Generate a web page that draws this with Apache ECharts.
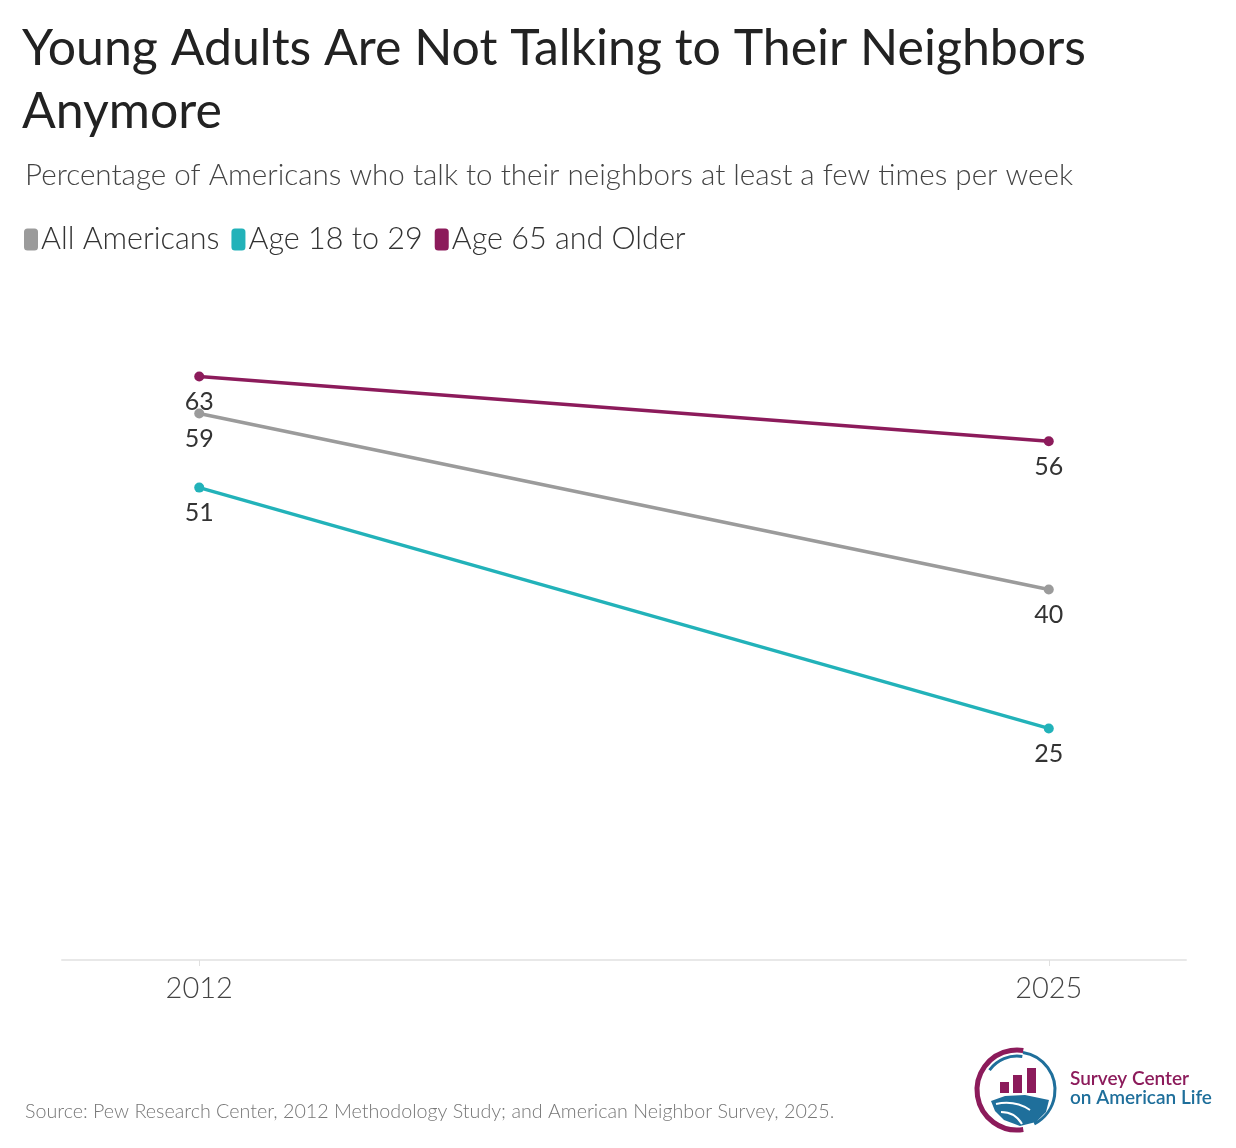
<!DOCTYPE html>
<html>
<head>
<meta charset="utf-8">
<script src="https://cdn.jsdelivr.net/npm/echarts@6/dist/echarts.min.js"></script>
<style>
html, body { margin: 0; padding: 0; background: #fff; }
#main { width: 1236px; height: 1148px; }
</style>
</head>
<body>
<div id="main"></div>
<script>
var years = [2012, 2025];
var seriesNames = ['All Americans', 'Age 18 to 29', 'Age 65 and Older'];
var allAmericans = [59, 40];
var age18to29 = [51, 25];
var age65plus = [63, 56];
var colors = ['#9b9b9b', '#22b2b9', '#8c1b5b'];

var chart = echarts.init(document.getElementById('main'));
var FONT = 'Lato';

function pairs(vals) {
	return years.map(function (y, i) { return [y, vals[i]]; });
}

function makeSeries(name, vals, color) {
	return {
		name: name,
		type: 'line',
		data: pairs(vals),
		symbol: 'circle',
		symbolSize: 10,
		lineStyle: { width: 3.5, color: color },
		itemStyle: { color: color },
		label: {
			show: true,
			position: 'bottom',
			distance: 8,
			fontFamily: FONT,
			fontSize: 25,
			color: '#333'
		},
		emphasis: { disabled: true },
		z: 3
	};
}

var option = {
	animation: false,
	color: colors,
	title: [{
		text: 'Young Adults Are Not Talking to Their Neighbors\nAnymore',
		left: 17,
		top: 12,
		textStyle: {
			fontFamily: FONT,
			fontSize: 50,
			fontWeight: 'normal',
			color: '#222',
			lineHeight: 63
		}
	}, {
		text: 'Percentage of Americans who talk to their neighbors at least a few times per week',
		left: 20,
		top: 155,
		textStyle: {
			fontFamily: FONT,
			fontSize: 29.6,
			fontWeight: 300,
			color: '#444'
		}
	}, {
		text: 'Source: Pew Research Center, 2012 Methodology Study; and American Neighbor Survey, 2025.',
		left: 20,
		top: 1097,
		textStyle: {
			fontFamily: FONT,
			fontSize: 19.7,
			fontWeight: 300,
			color: '#777'
		}
	}],
	legend: {
		left: 19,
		top: 219,
		itemWidth: 14,
		itemHeight: 22,
		itemGap: 12,
		icon: 'roundRect',
		data: seriesNames,
		textStyle: {
			fontFamily: FONT,
			fontSize: 30.5,
			fontWeight: 300,
			color: '#333',
			padding: [0, 0, 0, -2]
		}
	},
	grid: {
		left: 62,
		right: 50,
		top: 311.6,
		bottom: 188
	},
	xAxis: {
		type: 'value',
		min: 2009.9,
		max: 2027.1,
		splitLine: { show: false },
		axisLine: { show: true, lineStyle: { color: '#e8e8e8', width: 2 } },
		axisTick: { show: true, customValues: years, length: 6, lineStyle: { color: '#e0e0e0' } },
		axisLabel: {
			customValues: years,
			fontFamily: FONT,
			fontSize: 29,
			fontWeight: 300,
			color: '#444',
			margin: 14,
			formatter: function (v) { return String(v); }
		}
	},
	yAxis: {
		type: 'value',
		min: 0,
		max: 70,
		show: false,
		splitLine: { show: false }
	},
	series: [
		makeSeries(seriesNames[0], allAmericans, colors[0]),
		makeSeries(seriesNames[1], age18to29, colors[1]),
		makeSeries(seriesNames[2], age65plus, colors[2])
	],
	graphic: [
		// logo: ring
		{
			type: 'arc',
			shape: { cx: 1017, cy: 1090, r: 40, startAngle: Math.PI * 0.45, endAngle: Math.PI * 1.55 },
			style: { stroke: '#8c1b5b', lineWidth: 5, fill: null }
		},
		{
			type: 'arc',
			shape: { cx: 1017, cy: 1090, r: 38, startAngle: -Math.PI * 0.45, endAngle: Math.PI * 0.35 },
			style: { stroke: '#1f6f9b', lineWidth: 3, fill: null }
		},
		{
			type: 'arc',
			shape: { cx: 1017, cy: 1090, r: 34, startAngle: Math.PI * 1.2, endAngle: Math.PI * 1.55 },
			style: { stroke: '#1f6f9b', lineWidth: 3, fill: null }
		},
		// bars
		{ type: 'rect', shape: { x: 1000, y: 1082, width: 9, height: 11 }, style: { fill: '#8c1b5b' } },
		{ type: 'rect', shape: { x: 1013, y: 1075, width: 9, height: 18 }, style: { fill: '#8c1b5b' } },
		{ type: 'rect', shape: { x: 1027, y: 1068, width: 9, height: 25 }, style: { fill: '#8c1b5b' } },
		// hills
		{
			type: 'polygon',
			shape: { points: [[991, 1101], [1005, 1096], [1025, 1095], [1049, 1100], [1046, 1112], [1036, 1122], [1020, 1126], [1004, 1120], [995, 1111]] },
			style: { fill: '#1f6f9b' }
		},
		{
			type: 'bezierCurve',
			shape: { x1: 996, y1: 1104, x2: 1030, y2: 1110, cpx1: 1015, cpy1: 1100 },
			style: { stroke: '#fff', lineWidth: 2, fill: null }
		},
		{
			type: 'bezierCurve',
			shape: { x1: 1001, y1: 1112, x2: 1022, y2: 1124, cpx1: 1015, cpy1: 1112 },
			style: { stroke: '#fff', lineWidth: 2, fill: null }
		},
		{
			type: 'text',
			left: 1070,
			top: 1069,
			style: { text: 'Survey Center', font: '600 19px Lato', fill: '#8c1b5b' }
		},
		{
			type: 'text',
			left: 1070,
			top: 1088,
			style: { text: 'on American Life', font: '600 19px Lato', fill: '#1f6f9b' }
		}
	]
};

chart.setOption(option);
</script>
</body>
</html>
